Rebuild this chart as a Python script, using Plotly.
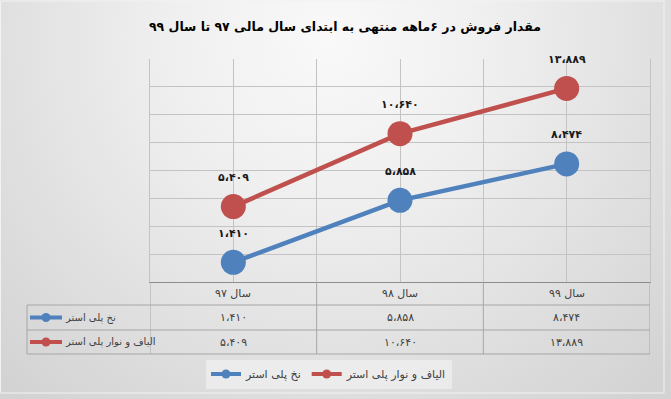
import base64
import plotly.graph_objects as go

# ---- data ----
categories = ["سال ۹۷", "سال ۹۸", "سال ۹۹"]
series_names = ["نخ پلی استر", "الیاف و نوار پلی استر"]
yarn_values = [1.410, 5.858, 8.474]
fiber_values = [5.409, 10.640, 13.889]
title_text = "مقدار فروش در ۶ماهه منتهی به ابتدای سال مالی ۹۷ تا سال ۹۹"

BLUE = "#4F81BD"
RED = "#C0504D"
W, H = 671, 399
FONT = "Tahoma, DejaVu Sans, sans-serif"
GRID = "#c3c3c3"
TABLE = "#a6a6a6"


def fa(v):
    s = f"{v:.3f}"
    return s.translate(str.maketrans("0123456789.", "۰۱۲۳۴۵۶۷۸۹،"))


def px_x(p):
    return p / W


def px_y(p):
    return (H - p) / H


xi = list(range(len(categories)))
series = [(series_names[0], yarn_values, BLUE), (series_names[1], fiber_values, RED)]

fig = go.Figure()
for name, vals, col in series:
    fig.add_trace(go.Scatter(
        x=xi, y=vals, mode="lines+markers", name=name, showlegend=False,
        line=dict(color=col, width=4.5),
        marker=dict(color=col, size=25),
        hoverinfo="skip",
    ))
# legend entries (smaller key markers)
for name, vals, col in series:
    fig.add_trace(go.Scatter(
        x=[None], y=[None], mode="lines+markers", name=name,
        line=dict(color=col, width=4), marker=dict(color=col, size=9),
    ))

# background gradient
svg = (f'<svg xmlns="http://www.w3.org/2000/svg" width="{W}" height="{H}">'
       '<defs><radialGradient id="g" gradientUnits="userSpaceOnUse" cx="330" cy="40" r="470">'
       '<stop offset="0" stop-color="#f9f9f9"/><stop offset="0.35" stop-color="#efefef"/>'
       '<stop offset="1" stop-color="#d3d3d3"/>'
       '</radialGradient></defs>'
       f'<rect width="{W}" height="{H}" fill="url(#g)"/></svg>')
src = "data:image/svg+xml;base64," + base64.b64encode(svg.encode()).decode()

plot_left, plot_right, plot_top, plot_bottom = 150, 650, 59, 282
row_lines = [282, 305, 330, 354]
key_left = 27

annotations = []
# data labels
for name, vals, col in series:
    for i, v in enumerate(vals):
        annotations.append(dict(
            x=i, y=v, xref="x", yref="y", text=fa(v), showarrow=False,
            yshift=29, yanchor="middle",
            font=dict(family=FONT, size=11, color="#1a1a1a", weight="bold"),
        ))
# table: category row
for i, c in enumerate(categories):
    annotations.append(dict(
        x=i, y=px_y((row_lines[0] + row_lines[1]) / 2), xref="x", yref="paper",
        text=c, showarrow=False, xanchor="center", yanchor="middle",
        font=dict(family=FONT, size=11, color="#404040"),
    ))
# table: value rows
for r, (name, vals, col) in enumerate(series):
    yc = px_y((row_lines[r + 1] + row_lines[r + 2]) / 2)
    for i, v in enumerate(vals):
        annotations.append(dict(
            x=i, y=yc, xref="x", yref="paper", text=fa(v), showarrow=False,
            xanchor="center", yanchor="middle",
            font=dict(family=FONT, size=11, color="#404040"),
        ))
    annotations.append(dict(
        x=px_x(63), y=yc, xref="paper", yref="paper", text=name, showarrow=False,
        xanchor="left", yanchor="middle", font=dict(family=FONT, size=10, color="#404040"),
    ))

shapes = []
# table horizontal lines
for k, yl in enumerate(row_lines[1:]):
    shapes.append(dict(type="line", xref="paper", yref="paper",
                       x0=px_x(key_left), x1=px_x(plot_right), y0=px_y(yl), y1=px_y(yl),
                       line=dict(color=TABLE, width=1)))
# table vertical lines at category boundaries
for xb in [-0.5, 0.5, 1.5, 2.5]:
    shapes.append(dict(type="line", xref="x", yref="paper", x0=xb, x1=xb,
                       y0=px_y(row_lines[0]), y1=px_y(row_lines[-1]),
                       line=dict(color=TABLE, width=1)))
shapes.append(dict(type="line", xref="paper", yref="paper", x0=px_x(key_left), x1=px_x(key_left),
                   y0=px_y(row_lines[1]), y1=px_y(row_lines[-1]), line=dict(color=TABLE, width=1)))
# table legend keys
for r, (name, vals, col) in enumerate(series):
    yc = (row_lines[r + 1] + row_lines[r + 2]) / 2
    shapes.append(dict(type="line", xref="paper", yref="paper", x0=px_x(30), x1=px_x(62),
                       y0=px_y(yc), y1=px_y(yc), line=dict(color=col, width=4)))
    shapes.append(dict(type="circle", xref="paper", yref="paper",
                       x0=px_x(41.5), x1=px_x(50.5), y0=px_y(yc - 4.5), y1=px_y(yc + 4.5),
                       fillcolor=col, line=dict(width=0)))
# chart border
shapes.append(dict(type="rect", xref="paper", yref="paper", x0=px_x(0.5), x1=px_x(664),
                   y0=px_y(393), y1=px_y(1), line=dict(color="#f2f2f2", width=1)))

fig.update_layout(
    width=W, height=H,
    margin=dict(l=0, r=0, t=0, b=0, autoexpand=False),
    paper_bgcolor="#e4e4e4",
    plot_bgcolor="rgba(0,0,0,0)",
    images=[dict(source=src, xref="paper", yref="paper", x=0, y=1, sizex=1, sizey=1,
                 sizing="stretch", layer="below", xanchor="left", yanchor="top")],
    title=dict(text=title_text, x=px_x(345), y=px_y(27), xanchor="center", yanchor="middle",
               font=dict(family=FONT, size=12.5, color="#000000", weight="bold")),
    xaxis=dict(domain=[px_x(plot_left), px_x(plot_right)], range=[-0.5, 2.5],
               tickmode="linear", tick0=-0.5, dtick=0.5, showticklabels=False,
               showgrid=True, gridcolor=GRID, gridwidth=1, zeroline=False,
               showline=True, linecolor="#8c8c8c", linewidth=1.3, fixedrange=True),
    yaxis=dict(domain=[px_y(plot_bottom), px_y(plot_top)], range=[0, 16],
               tickmode="linear", tick0=0, dtick=2, showticklabels=False,
               showgrid=True, gridcolor=GRID, gridwidth=1, zeroline=False,
               showline=True, mirror=True, linecolor=GRID, linewidth=1, fixedrange=True),
    legend=dict(orientation="h", x=px_x(329), y=px_y(374), xanchor="center", yanchor="middle",
                traceorder="normal", bgcolor="rgba(245,245,245,0.55)",
                font=dict(family=FONT, size=11, color="#404040"), itemwidth=30),
    annotations=annotations,
    shapes=shapes,
    showlegend=True,
)

fig.write_html("out.html", config={"displayModeBar": False},
               post_script="document.body.style.margin='0';document.body.style.overflow='hidden';")
